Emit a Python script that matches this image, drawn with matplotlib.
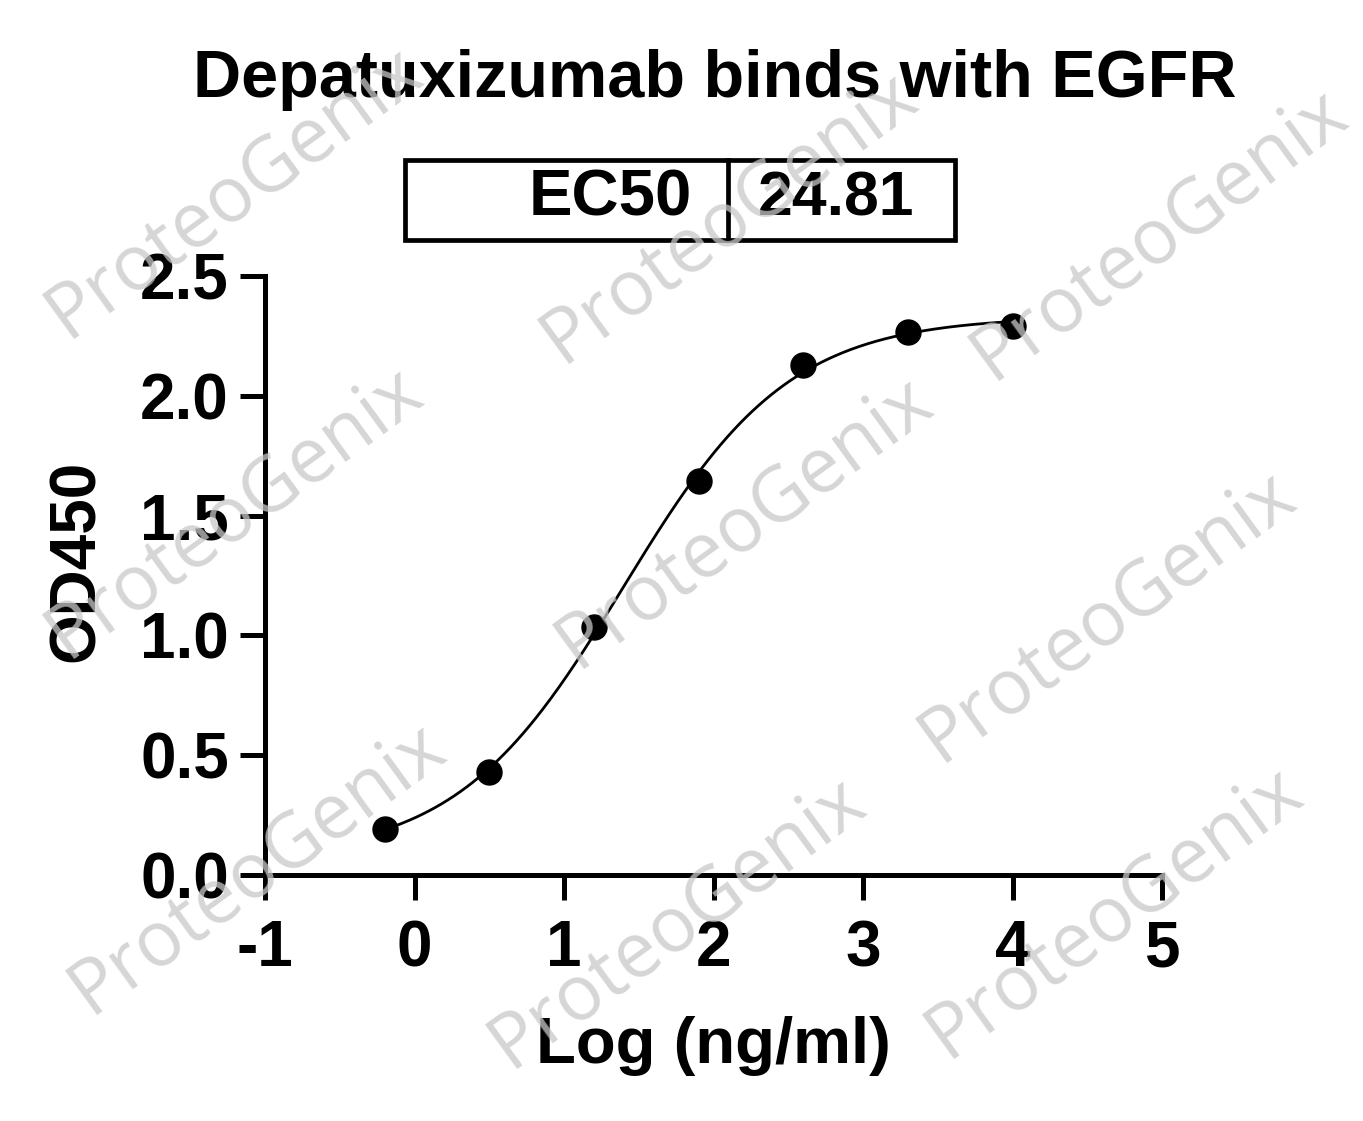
import numpy as np
import matplotlib
matplotlib.use("Agg")
import matplotlib.pyplot as plt
from matplotlib.patches import Rectangle
from matplotlib.lines import Line2D

# data
log_conc = [-0.2, 0.5, 1.2, 1.9, 2.6, 3.3, 4.0]
od450 = [0.19, 0.43, 1.035, 1.645, 2.13, 2.265, 2.29]
ec50 = 24.81
x_ticks = [-1, 0, 1, 2, 3, 4, 5]
y_ticks = [0.0, 0.5, 1.0, 1.5, 2.0, 2.5]

# 4PL fit with fixed EC50: grid over hill slope, bottom/top solved linearly
x = np.array(log_conc)
y = np.array(od450)
c = np.log10(ec50)
best = None
for h in np.linspace(0.3, 2.0, 341):
    s = 1.0 / (1.0 + 10 ** ((c - x) * h))
    A = np.column_stack([1 - s, s])
    coef, *_ = np.linalg.lstsq(A, y, rcond=None)
    err = np.sum((A @ coef - y) ** 2)
    if best is None or err < best[0]:
        best = (err, h, coef)
_, hill, (bottom, top) = best
xf = np.linspace(x.min(), x.max(), 300)
yf = bottom + (top - bottom) / (1 + 10 ** ((c - xf) * hill))

plt.rcParams['font.family'] = ['Liberation Sans', 'DejaVu Sans']
fig = plt.figure(figsize=(13.63, 11.21), dpi=100)
W, H = 1363, 1121
ax = fig.add_axes([265 / W, 1 - 875 / H, (1162 - 265) / W, (875 - 276) / H])

ax.plot(xf, yf, color='black', lw=2.0, zorder=3)
ax.plot(x, y, 'o', color='black', ms=18, zorder=4, clip_on=False)

ax.set_xlim(-1, 5)
ax.set_ylim(0, 2.5)
ax.set_xticks(x_ticks)
ax.set_xticklabels([str(t) for t in x_ticks])
ax.set_yticks(y_ticks)
ax.set_yticklabels(['%.1f' % t for t in y_ticks])
for sp in ['top', 'right']:
    ax.spines[sp].set_visible(False)
for sp in ['left', 'bottom']:
    ax.spines[sp].set_linewidth(3.6)
ax.tick_params(axis='both', width=3.6, length=18, direction='out', labelsize=46)
ax.tick_params(axis='x', pad=14)
ax.tick_params(axis='y', pad=8)
for lab in ax.get_xticklabels() + ax.get_yticklabels():
    lab.set_fontweight('bold')

ax.set_xlabel('Log (ng/ml)', fontsize=47, fontweight='bold', labelpad=26)
ax.set_ylabel('OD450', fontsize=46, fontweight='bold')
ax.yaxis.set_label_coords((107 - 265) / 897, (875 - 561) / 599)

# title
fig.text(715 / W, 1 - 80 / H, 'Depatuxizumab binds with EGFR', ha='center', va='center',
         fontsize=48, fontweight='bold')

# EC50 box
bx0, bx1, bdiv, by0, by1 = 405, 955, 728, 160, 240
fig.add_artist(Rectangle((bx0 / W, 1 - by1 / H), (bx1 - bx0) / W, (by1 - by0) / H,
                         transform=fig.transFigure, fill=False, lw=3.4, ec='black'))
fig.add_artist(Line2D([bdiv / W, bdiv / W], [1 - by1 / H, 1 - by0 / H],
                      transform=fig.transFigure, color='black', lw=3.4))
fig.text(692 / W, 1 - 199 / H, 'EC50', ha='right', va='center', fontsize=47, fontweight='bold')
fig.text(836 / W, 1 - 199 / H, '%.2f' % ec50, ha='center', va='center', fontsize=45, fontweight='bold')

# watermarks
marks = [(235, 192), (730, 217), (1160, 234), (235, 512), (745, 522), (1108, 616),
         (258, 868), (678, 922), (1115, 912)]
for mx, my in marks:
    fig.text(mx / W, 1 - my / H, 'ProteoGenix', ha='center', va='center', rotation=36,
             rotation_mode='anchor', fontsize=55, family='Open Sans', color='#c8c8c8',
             alpha=0.75, zorder=10)

fig.savefig('out.png', dpi=100)
